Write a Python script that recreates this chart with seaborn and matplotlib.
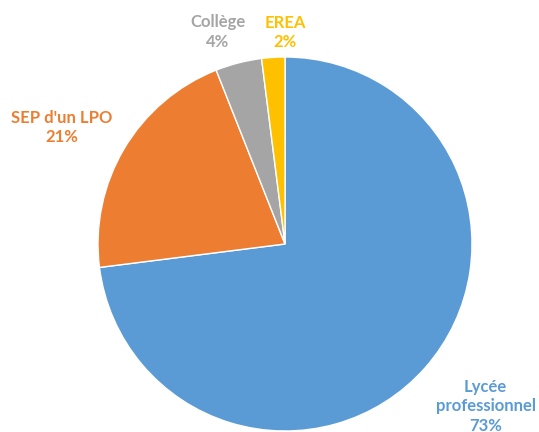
import numpy as np
import matplotlib
matplotlib.use("Agg")
import matplotlib.pyplot as plt
import seaborn as sns

categories = ["Lycée\nprofessionnel", "SEP d'un LPO", "Collège", "EREA"]
values = [73, 21, 4, 2]
colors = ["#5B9BD5", "#ED7D31", "#A5A5A5", "#FFC000"]

sns.set_style("white")
plt.rcParams['font.family'] = ['Lato', 'DejaVu Sans']

W, H = 539, 432
fig = plt.figure(figsize=(W / 100, H / 100), dpi=100)
cx, cy, R = 285, 244, 187
ax = fig.add_axes([(cx - R) / W, (H - cy - R) / H, 2 * R / W, 2 * R / H])

wedges, _ = ax.pie(values, colors=colors, startangle=90, counterclock=False,
                   wedgeprops=dict(edgecolor="white", linewidth=1.0))
ax.set_xlim(-1, 1)
ax.set_ylim(-1, 1)
ax.set_aspect("equal")
ax.axis("off")

# label placement (radius, angle tweak in degrees) relative to wedge middle
place = {0: (1.38, 2.4), 1: (1.345, 3.0), 2: (1.19, 3.2), 3: (1.13, -3.6)}
for i, (w, cat, v, c) in enumerate(zip(wedges, categories, values, colors)):
    mid = 0.5 * (w.theta1 + w.theta2)
    r, dt = place[i]
    a = np.deg2rad(mid + dt)
    ax.text(r * np.cos(a), r * np.sin(a), f"{cat}\n{v}%", ha="center", va="center",
            color=c, fontsize=12, fontweight="bold", linespacing=1.25,
            clip_on=False)

fig.savefig("out.png", dpi=100)
